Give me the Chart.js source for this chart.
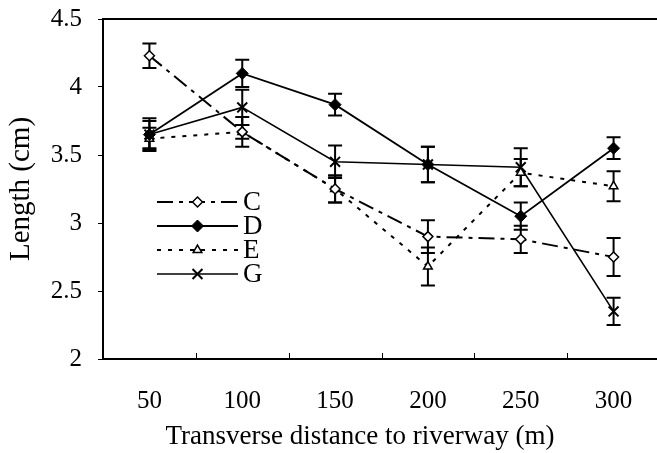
<!DOCTYPE html>
<html>
<head>
<meta charset="utf-8">
<script src="https://cdn.jsdelivr.net/npm/chart.js"></script>
<style>
  html, body { margin: 0; padding: 0; background: #fff; overflow: hidden; }
  #wrap { width: 669px; height: 453px; }
</style>
</head>
<body>
<div id="wrap"><canvas id="lengthChart"></canvas></div>
<script>
    // ==============================
    // Data
    // ==============================
    var distances = ["50", "100", "150", "200", "250", "300"];
    var yTicks = [2, 2.5, 3, 3.5, 4, 4.5];

    var seriesC = [4.23, 3.67, 3.25, 2.90, 2.88, 2.75];
    var errC    = [0.09, 0.11, 0.10, 0.12, 0.10, 0.14];
    var seriesD = [3.65, 4.10, 3.87, 3.43, 3.05, 3.55];
    var errD    = [0.12, 0.10, 0.08, 0.13, 0.10, 0.08];
    var seriesE = [3.62, 3.67, 3.25, 2.68, 3.37, 3.27];
    var errE    = [0.08, 0.05, 0.10, 0.14, 0.10, 0.11];
    var seriesG = [3.65, 3.85, 3.45, 3.43, 3.41, 2.35];
    var errG    = [0.10, 0.13, 0.12, 0.13, 0.14, 0.10];

    var xTitle = "Transverse distance to riverway (m)";
    var serif = "'Liberation Serif', 'Times New Roman', serif";

    // ==============================
    // Error bars, frame, inner x ticks, x title and inset legend
    // ==============================
    var figurePlugin = {
        id: "figurePlugin",
        beforeDatasetsDraw: function(chart) {
            var ctx = chart.ctx;
            ctx.save();
            ctx.strokeStyle = "#000";
            ctx.lineWidth = 2;
            chart.data.datasets.forEach(function(ds, i) {
                var meta = chart.getDatasetMeta(i);
                var ys = chart.scales.y;
                ds.data.forEach(function(v, j) {
                    var x = meta.data[j].x;
                    var top = ys.getPixelForValue(v + ds.err[j]);
                    var bot = ys.getPixelForValue(v - ds.err[j]);
                    ctx.beginPath();
                    ctx.moveTo(x, top); ctx.lineTo(x, bot);
                    ctx.moveTo(x - 7, top); ctx.lineTo(x + 7, top);
                    ctx.moveTo(x - 7, bot); ctx.lineTo(x + 7, bot);
                    ctx.stroke();
                });
            });
            ctx.restore();
        },
        afterDraw: function(chart) {
            var ctx = chart.ctx;
            var a = chart.chartArea;
            var xs = chart.scales.x;
            ctx.save();
            ctx.strokeStyle = "#000";
            // top frame line
            ctx.lineWidth = 2;
            ctx.beginPath();
            ctx.moveTo(a.left, a.top); ctx.lineTo(a.right, a.top);
            ctx.stroke();
            // tick marks between categories, pointing inwards
            ctx.lineWidth = 1;
            for (var i = 0; i < distances.length - 1; i++) {
                var tx = Math.round((xs.getPixelForTick(i) + xs.getPixelForTick(i + 1)) / 2) + 0.5;
                ctx.beginPath();
                ctx.moveTo(tx, a.bottom); ctx.lineTo(tx, a.bottom - 6);
                ctx.stroke();
            }
            // x axis title (sits a bit left of the plot centre in the original)
            ctx.fillStyle = "#000";
            ctx.font = "27px " + serif;
            ctx.textAlign = "center";
            ctx.textBaseline = "middle";
            ctx.fillText(xTitle, 360, 437);
            // legend
            var lx0 = 157, lx1 = 238, ly = 202, gap = 24;
            chart.data.datasets.forEach(function(ds, i) {
                var y = ly + i * gap;
                ctx.strokeStyle = "#000";
                ctx.lineWidth = ds.borderWidth;
                ctx.setLineDash(ds.borderDash || []);
                ctx.beginPath();
                ctx.moveTo(lx0, y); ctx.lineTo(lx1, y);
                ctx.stroke();
                ctx.setLineDash([]);
                ctx.fillStyle = ds.pointBackgroundColor;
                ctx.lineWidth = ds.pointBorderWidth;
                Chart.helpers.drawPoint(ctx, {
                    pointStyle: ds.pointStyle,
                    radius: ds.pointRadius,
                    borderWidth: ds.pointBorderWidth,
                    rotation: 0
                }, (lx0 + lx1) / 2, y);
                ctx.fillStyle = "#000";
                ctx.font = "27px " + serif;
                ctx.textBaseline = "middle";
                ctx.textAlign = "left";
                ctx.fillText(ds.label, 243, y + 1);
            });
            ctx.restore();
        }
    };

    // ==============================
    // Gráfico
    // ==============================
    var ctxLength = document.getElementById("lengthChart").getContext("2d");
    var lengthChart = new Chart(ctxLength, {
        type: "line",
        data: {
            labels: distances,
            datasets: [{
                label: "C",
                data: seriesC,
                err: errC,
                borderColor: "#000",
                borderWidth: 2,
                borderDash: [16, 6, 4, 6],
                pointStyle: "rectRot",
                pointRadius: 5,
                pointBorderWidth: 1.5,
                pointBackgroundColor: "#fff",
                pointBorderColor: "#000"
            }, {
                label: "D",
                data: seriesD,
                err: errD,
                borderColor: "#000",
                borderWidth: 1.8,
                pointStyle: "rectRot",
                pointRadius: 6,
                pointBorderWidth: 1,
                pointBackgroundColor: "#000",
                pointBorderColor: "#000"
            }, {
                label: "E",
                data: seriesE,
                err: errE,
                borderColor: "#000",
                borderWidth: 2,
                borderDash: [4, 7],
                pointStyle: "triangle",
                pointRadius: 5,
                pointBorderWidth: 1.5,
                pointBackgroundColor: "#fff",
                pointBorderColor: "#000"
            }, {
                label: "G",
                data: seriesG,
                err: errG,
                borderColor: "#000",
                borderWidth: 1.6,
                pointStyle: "crossRot",
                pointRadius: 7,
                pointBorderWidth: 2,
                pointBackgroundColor: "#000",
                pointBorderColor: "#000"
            }]
        },
        options: {
            responsive: true,
            maintainAspectRatio: false,
            animation: false,
            events: [],
            layout: { padding: { left: 4, top: 19, right: 0, bottom: 0 } },
            elements: { line: { tension: 0 } },
            plugins: {
                legend: { display: false },
                tooltip: { enabled: false }
            },
            scales: {
                x: {
                    offset: true,
                    afterFit: function(scale) {
                        scale.height = 94;
                        scale.paddingLeft = 0;
                        scale.paddingRight = 0;
                    },
                    grid: { display: false, drawTicks: false },
                    border: { display: true, color: "#000", width: 2 },
                    ticks: { color: "#000", padding: 27, font: { family: serif, size: 25 }, maxRotation: 0 },
                    title: { display: false }
                },
                y: {
                    min: yTicks[0],
                    max: yTicks[yTicks.length - 1],
                    afterBuildTicks: function(scale) {
                        scale.ticks = yTicks.map(function(v) { return { value: v }; });
                    },
                    afterFit: function(scale) {
                        scale.width = 99;
                        scale.paddingTop = 0;
                        scale.paddingBottom = 0;
                    },
                    grid: { drawOnChartArea: false, drawTicks: true, tickLength: 5, color: "#000", lineWidth: 1 },
                    border: { display: true, color: "#000", width: 2 },
                    ticks: {
                        color: "#000",
                        padding: 16,
                        font: { family: serif, size: 25 },
                        callback: function(v) { return String(v); }
                    },
                    title: {
                        display: true,
                        text: "Length (cm)",
                        color: "#000",
                        font: { family: serif, size: 29 },
                        padding: { top: 0, bottom: 0 }
                    }
                }
            }
        },
        plugins: [figurePlugin]
    });
</script>
</body>
</html>
